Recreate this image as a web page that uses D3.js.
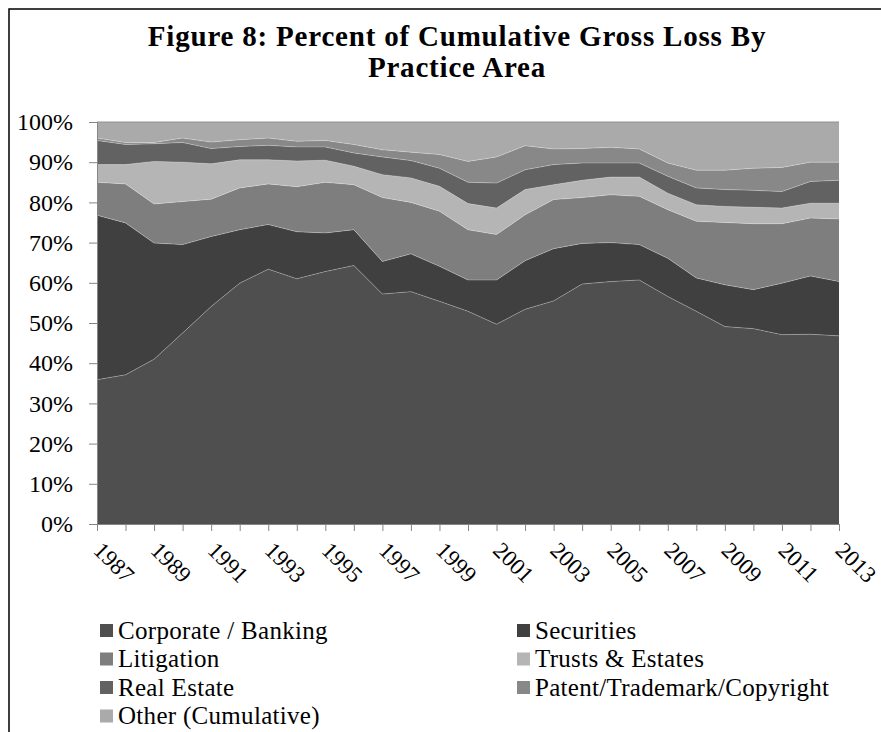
<!DOCTYPE html>
<html>
<head>
<meta charset="utf-8">
<script src="https://cdn.jsdelivr.net/npm/d3@7"></script>
<style>
  body { margin: 0; background: #fff; }
  text { font-family: "Liberation Serif", "DejaVu Serif", serif; fill: #000; }
</style>
</head>
<body>
<svg id="chart" width="881" height="732"></svg>
<script>
var years = [1987,1988,1989,1990,1991,1992,1993,1994,1995,1996,1997,1998,1999,2000,
             2001,2002,2003,2004,2005,2006,2007,2008,2009,2010,2011,2012,2013];

// percent of cumulative gross loss
var corporate   = [35.9,37.1,41.0,47.5,54.1,59.9,63.4,61.0,62.8,64.3,57.2,57.8,55.4,52.9,49.7,53.4,55.5,59.7,60.3,60.7,56.6,52.9,49.1,48.6,47.1,47.2,46.8];
var securities  = [40.9,37.8,28.9,22.0,17.4,13.3,11.1,11.7,9.6,8.9,8.1,9.4,8.7,7.8,11.0,12.1,13.0,10.1,9.7,8.8,9.5,8.3,10.4,9.7,12.8,14.5,13.5];
var litigation  = [8.2,9.7,9.7,10.7,9.3,10.4,10.1,11.2,12.6,11.2,15.9,12.8,13.7,12.5,11.3,11.4,12.2,11.4,11.9,12.0,12.1,14.1,15.5,16.4,14.8,14.4,15.6];
var trusts      = [4.4,4.8,10.6,9.8,8.8,7.0,6.0,6.4,5.5,4.6,5.7,6.1,6.2,6.5,6.6,6.3,3.7,4.3,4.4,4.8,4.1,4.1,4.0,4.1,3.9,3.7,3.9];
var realEstate  = [6.0,5.0,4.4,4.9,3.8,3.3,3.6,3.5,3.3,3.3,4.4,4.3,4.5,5.3,6.2,4.9,5.0,4.3,3.5,3.5,4.2,4.2,4.2,4.2,4.1,5.4,5.7];
var patent      = [0.6,0.5,0.3,1.1,1.6,1.7,1.8,1.4,1.6,2.1,1.8,2.1,3.4,5.2,6.5,6.0,3.9,3.6,3.9,3.5,3.3,4.4,4.8,5.5,6.0,4.8,4.5];
var other       = [4.0,5.1,5.1,4.0,5.0,4.4,4.0,4.8,4.6,5.6,6.9,7.5,8.1,9.8,8.7,5.9,6.7,6.6,6.3,6.7,10.2,12.0,12.0,11.5,11.3,10.0,10.0];

var seriesNames = ["Corporate / Banking","Securities","Litigation","Trusts & Estates",
                   "Real Estate","Patent/Trademark/Copyright","Other (Cumulative)"];
var seriesColors = ["#4f4f4f","#404040","#7e7e7e","#b5b5b5","#626262","#888888","#aaaaaa"];
var yTickValues = [0,0.1,0.2,0.3,0.4,0.5,0.6,0.7,0.8,0.9,1];
var xLabelYears = [1987,1989,1991,1993,1995,1997,1999,2001,2003,2005,2007,2009,2011,2013];

(function() {
  var svg = d3.select("#chart");
  var plotLeft = 97, plotRight = 839, plotTop = 122, plotBottom = 524;

  // outer chart frame (runs off the right and bottom edge)
  svg.append("rect")
    .attr("x",9).attr("y",9).attr("width",1000).attr("height",1000)
    .attr("fill","none").attr("stroke","#000").attr("stroke-width",1.5)

  svg.append("text").attr("x",457).attr("y",46)
    .attr("text-anchor","middle").style("font-weight","bold").style("font-size","29px")
    .style("letter-spacing","0.8px")
    .text("Figure 8: Percent of Cumulative Gross Loss By")
  svg.append("text").attr("x",457).attr("y",77)
    .attr("text-anchor","middle").style("font-weight","bold").style("font-size","29px")
    .style("letter-spacing","0.8px")
    .text("Practice Area")

  var rows = years.map(function(yr,i){
    return {year:yr, c:corporate[i], s:securities[i], l:litigation[i], t:trusts[i],
            r:realEstate[i], p:patent[i], o:other[i]}
  })
  var keys = ["c","s","l","t","r","p","o"];
  var layers = d3.stack().keys(keys).offset(d3.stackOffsetExpand)(rows)

  var x = d3.scaleLinear().domain([years[0], years[years.length-1]]).range([plotLeft,plotRight])
  var y = d3.scaleLinear().domain([0,1]).range([plotBottom,plotTop])

  var area = d3.area()
    .x(function(d){return x(d.data.year)})
    .y0(function(d){return y(d[0])})
    .y1(function(d){return y(d[1])})
  var topLine = d3.line()
    .x(function(d){return x(d.data.year)})
    .y(function(d){return y(d[1])})

  svg.append("g").selectAll("path").data(layers).enter().append("path")
    .attr("d",area)
    .attr("fill",function(d,i){return seriesColors[i]})

  svg.append("g").selectAll("path").data(layers.slice(0,6)).enter().append("path")
    .attr("d",topLine)
    .attr("fill","none")
    .attr("stroke","rgba(255,255,255,0.35)")
    .attr("stroke-width",0.8)

  // plot area top edge
  svg.append("line").attr("x1",plotLeft).attr("x2",plotRight).attr("y1",plotTop).attr("y2",plotTop)
    .attr("stroke","#909090").attr("stroke-width",1)

  // y axis
  var yAxis = svg.append("g").attr("transform","translate("+plotLeft+",0)")
    .call(d3.axisLeft(y).tickValues(yTickValues).tickFormat(d3.format(".0%")).tickSize(8).tickSizeOuter(0))
  yAxis.select(".domain").attr("stroke","#868686")
  yAxis.selectAll(".tick line").attr("stroke","#868686")
  yAxis.selectAll(".tick text").attr("x",-24).attr("fill","#000")
    .style("font-size","24px").style("font-family","Liberation Serif")

  // x axis, a tick at each year, labels every other year
  var xAxis = svg.append("g").attr("transform","translate(0,"+plotBottom+")")
    .call(d3.axisBottom(x).tickValues(years).tickSize(7).tickSizeOuter(0).tickFormat(""))
  xAxis.select(".domain").attr("stroke","#868686")
  xAxis.selectAll(".tick line").attr("stroke","#868686")

  svg.append("g").selectAll("text").data(xLabelYears).enter().append("text")
    .attr("transform",function(d){return "translate("+(x(d)+1)+","+(plotBottom+22)+") rotate(45)"})
    .attr("text-anchor","start")
    .attr("dy","0.35em")
    .style("font-size","23px")
    .text(function(d){return d})

  // legend, two columns
  var legendX = [100,517], legendY0 = 630, legendStep = 28.5;
  var leg = svg.append("g").selectAll("g").data(seriesNames).enter().append("g")
    .attr("transform",function(d,i){
      return "translate("+legendX[i%2]+","+(legendY0+Math.floor(i/2)*legendStep)+")"
    })
  leg.append("rect").attr("x",0).attr("y",-6).attr("width",13).attr("height",13)
    .attr("fill",function(d,i){return seriesColors[i]})
  leg.append("text").attr("x",18).attr("dy","0.35em").style("font-size","25px")
    .style("letter-spacing","0.3px")
    .text(function(d){return d})
})();
</script>
</body>
</html>
